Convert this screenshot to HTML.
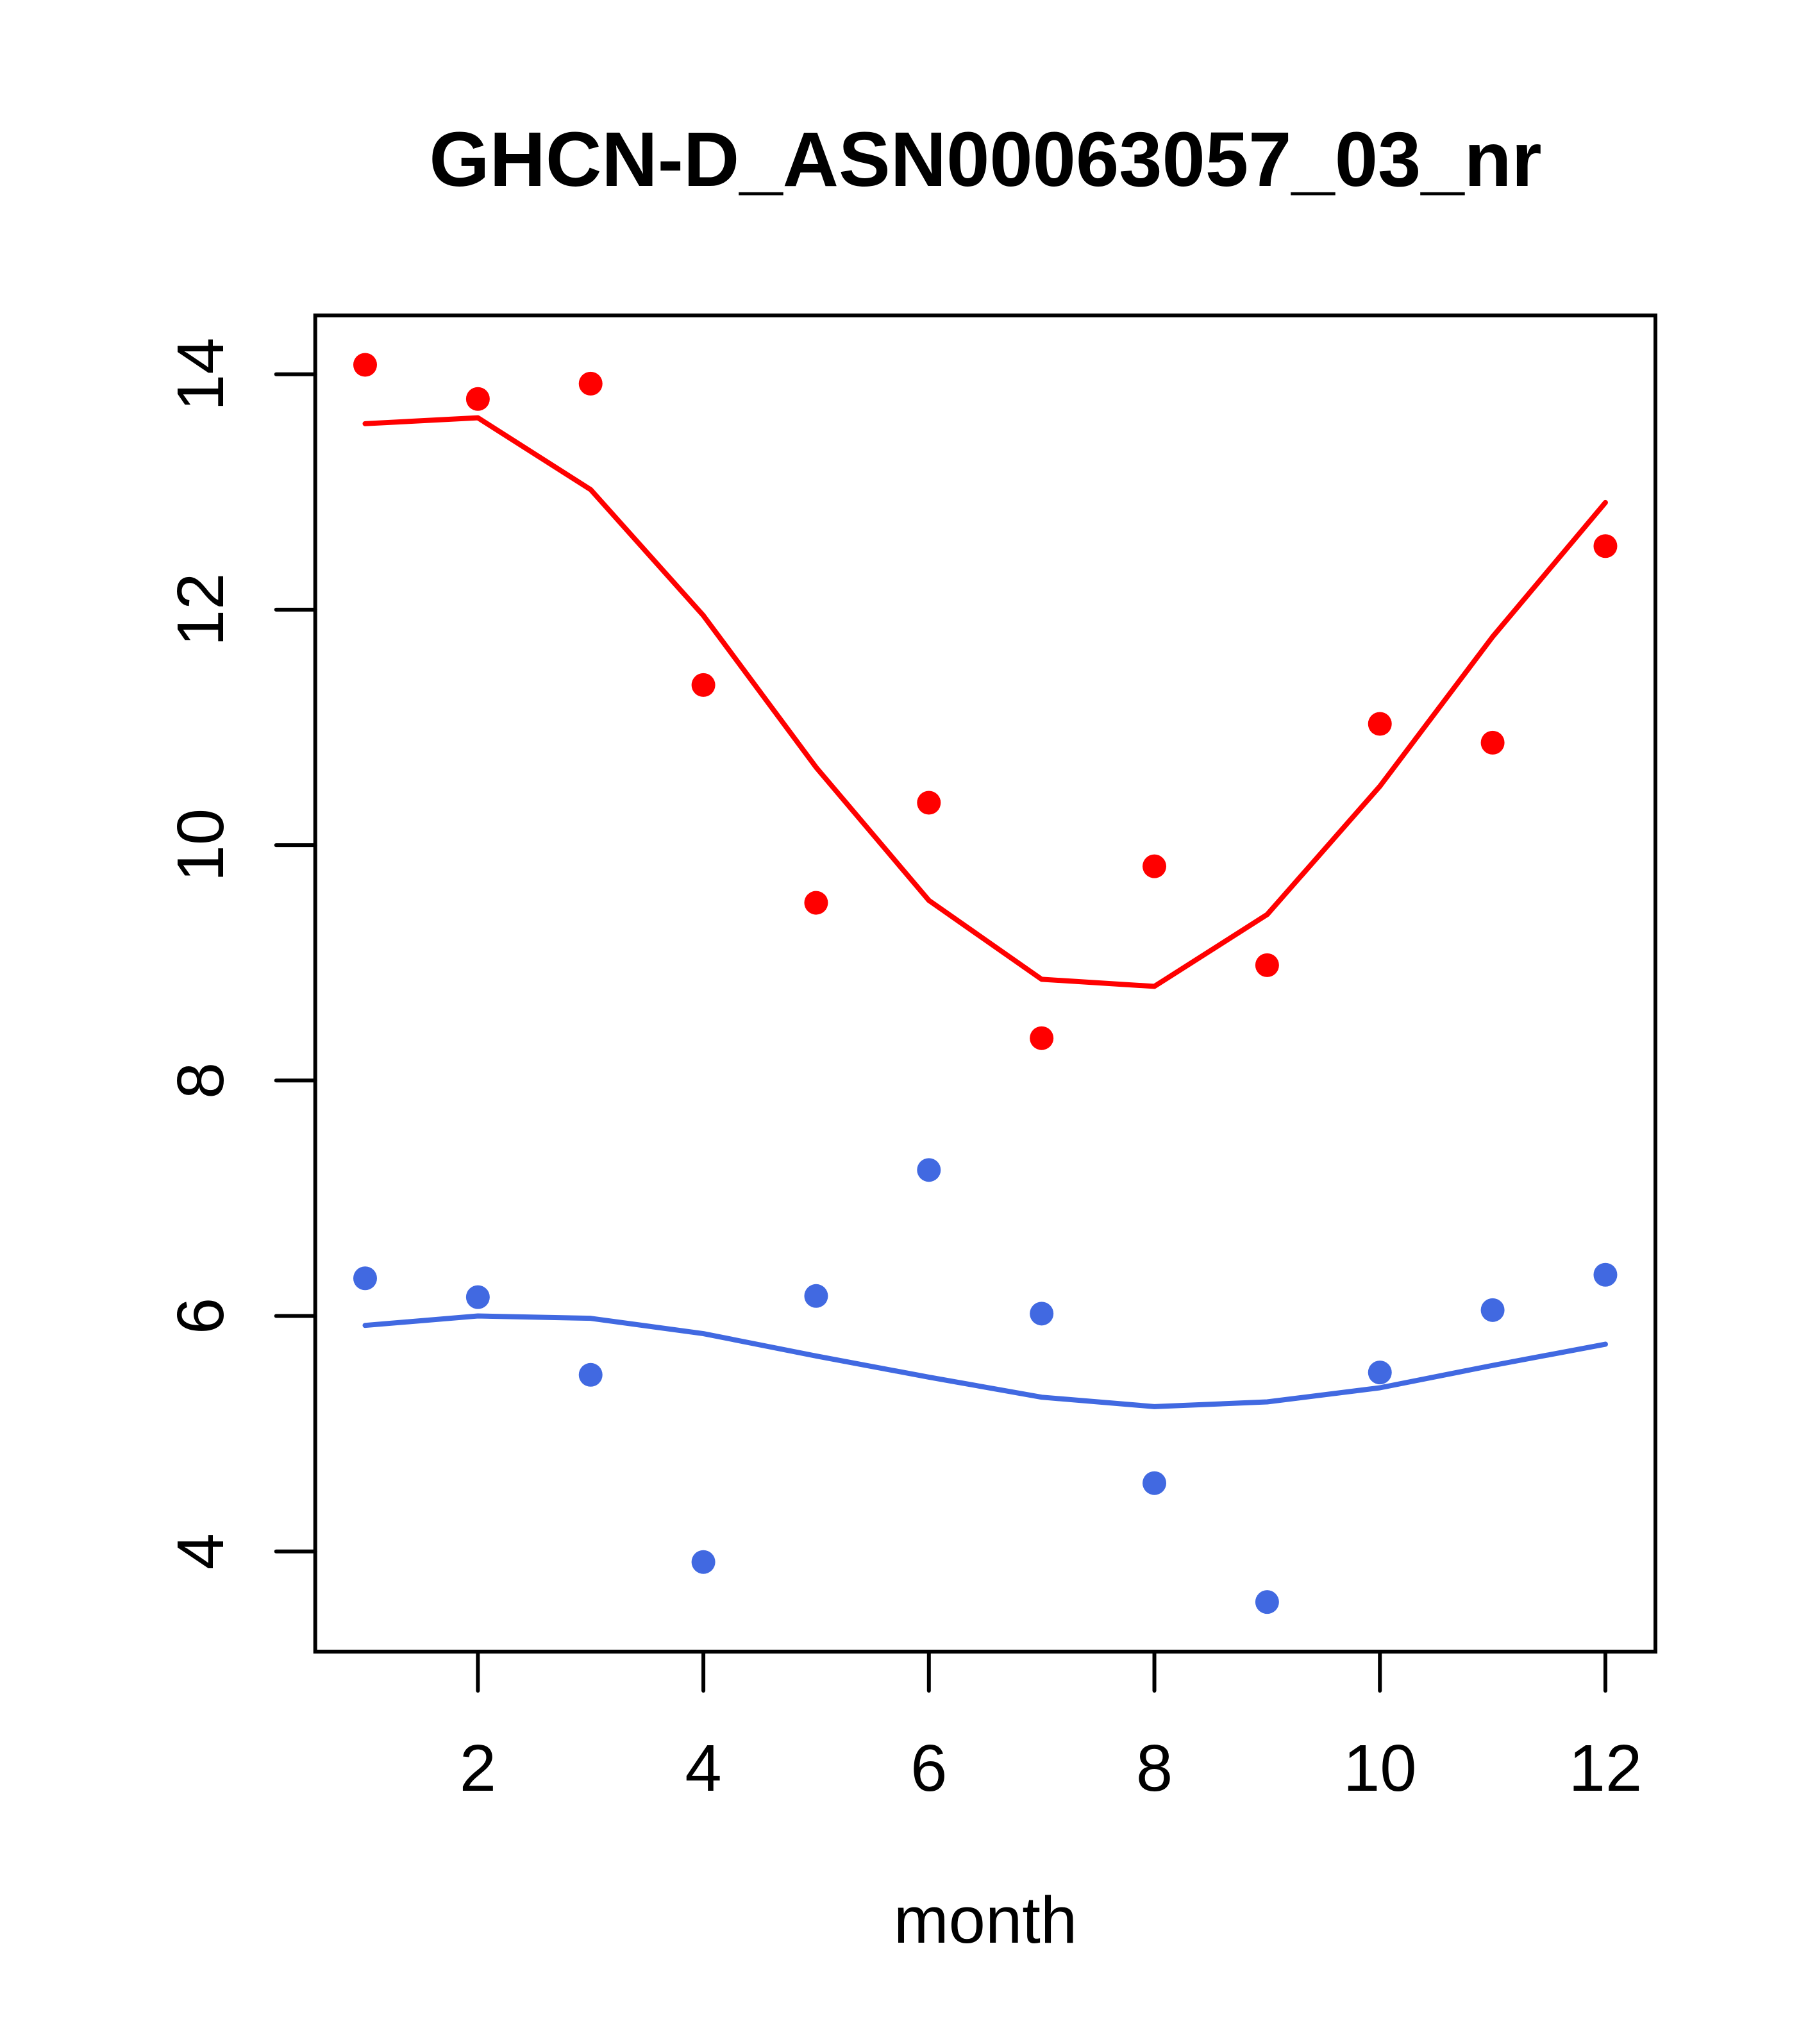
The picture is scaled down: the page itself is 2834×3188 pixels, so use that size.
<!DOCTYPE html>
<html><head><meta charset="utf-8"><style>
html,body{margin:0;padding:0;background:#fff;}
svg{display:block;}
text{font-family:"Liberation Sans",Arial,sans-serif;fill:#000;}
</style></head><body>
<svg id="s" width="2834" height="3188" viewBox="0 0 2834 3188" xmlns="http://www.w3.org/2000/svg">
<rect width="2834" height="3188" fill="#fff"/>
<text x="1537" y="290" font-size="121" font-weight="bold" text-anchor="middle">GHCN-D_ASN00063057_03_nr</text>
<rect x="491.7" y="492" width="2090.3" height="2084" fill="none" stroke="#000" stroke-width="6"/>
<g id="ax" stroke="#000" stroke-width="6" stroke-linecap="round"></g>
<g id="lbl" font-size="103"></g>
<text x="1537" y="3030" font-size="103" text-anchor="middle">month</text>
<g id="data"></g>
</svg>
<script>
var NS="http://www.w3.org/2000/svg";
function X(m){return 569.5+(m-1)*175.86;}
function Y(v){return 583.7+(14-v)*183.6;}
function el(n,a,p,t){var e=document.createElementNS(NS,n);for(var k in a)e.setAttribute(k,a[k]);if(t!==undefined)e.textContent=t;p.appendChild(e);return e;}
var ax=document.getElementById('ax'),lb=document.getElementById('lbl'),d=document.getElementById('data');
for(var m=2;m<=12;m+=2){el('line',{x1:X(m),y1:2576,x2:X(m),y2:2637},ax);el('text',{x:X(m),y:2793,'text-anchor':'middle'},lb,String(m));}
for(var v=4;v<=14;v+=2){el('line',{x1:430.7,y1:Y(v),x2:491.7,y2:Y(v)},ax);
 el('text',{x:0,y:0,'text-anchor':'middle',transform:'translate(348,'+Y(v)+') rotate(-90)'},lb,String(v));}
var rp=[14.08,13.79,13.92,11.36,9.51,10.36,8.36,9.82,8.98,11.03,10.87,12.54];
var rl=[13.58,13.63,13.02,11.95,10.66,9.53,8.86,8.80,9.41,10.50,11.77,12.91];
var bp=[6.32,6.16,5.50,3.91,6.17,7.24,6.02,4.58,3.57,5.52,6.05,6.35];
var bl=[5.92,6.00,5.98,5.85,5.66,5.48,5.31,5.23,5.27,5.39,5.58,5.76];
function line(a,c){var p=a.map(function(v,i){return X(i+1)+','+Y(v);}).join(' ');
 el('polyline',{points:p,fill:'none',stroke:c,'stroke-width':8,'stroke-linejoin':'round','stroke-linecap':'round'},d);}
function pts(a,c){a.forEach(function(v,i){el('circle',{cx:X(i+1),cy:Y(v),r:18.5,fill:c},d);});}
line(rl,'#ff0000');pts(rp,'#ff0000');line(bl,'#4169e1');pts(bp,'#4169e1');
</script>
</body></html>
